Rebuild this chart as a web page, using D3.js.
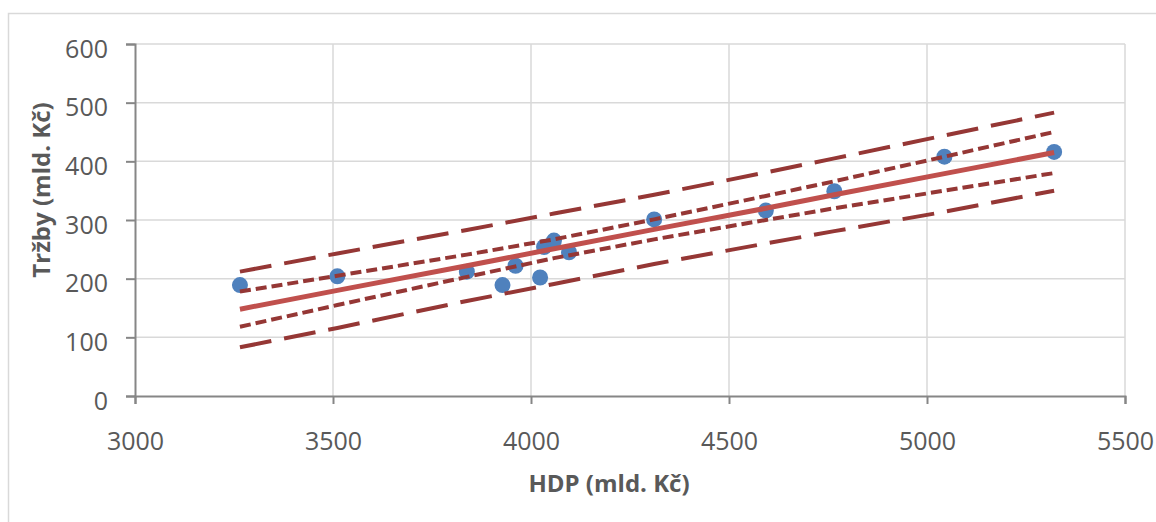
<!DOCTYPE html>
<html>
<head>
<meta charset="utf-8">
<script src="https://cdn.jsdelivr.net/npm/d3@7"></script>
<style>
body{margin:0;background:#fff;}
svg text{font-family:"Open Sans","Noto Sans",sans-serif;fill:#595959;}
</style>
</head>
<body>
<svg id="chart" width="1156" height="522"></svg>
<script>
// data
var hdp = [3265, 3511, 3838, 3928, 3961, 4023, 4033, 4058, 4096, 4311, 4593, 4766, 5044, 5321];
var trzby = [189, 204, 212, 189, 222, 202, 254, 265, 245, 301, 316, 349, 408, 416];

// regression line + bands
var bandX = [3265, 3511, 3838, 4058, 4311, 4593, 4766, 5044, 5321];
var fit = [148, 180, 222, 251, 284, 320, 343, 379, 415];
var confUp = [178, 205, 241, 267, 301, 341, 366, 408, 450];
var confLo = [118, 155, 203, 235, 267, 300, 320, 350, 380];
var predUp = [212, 243, 283, 311, 343, 381, 405, 444, 483];
var predLo = [83, 116, 162, 191, 225, 260, 281, 314, 350];

var xTicks = [3000, 3500, 4000, 4500, 5000, 5500];
var yTicks = [0, 100, 200, 300, 400, 500, 600];

var svg = d3.select('#chart');

// outer frame
svg.append('rect')
    .attr('x', 8.5).attr('y', 13.5)
    .attr('width', 1160).attr('height', 520)
    .attr('fill', 'none').attr('stroke', '#d9d9d9').attr('stroke-width', 1.5);

var x = d3.scaleLinear().domain([3000, 5500]).range([135, 1125]);
var y = d3.scaleLinear().domain([0, 600]).range([396, 44]);

// grid
svg.append('g').selectAll('line').data(yTicks.slice(1)).enter().append('line')
    .attr('x1', x(3000)).attr('x2', x(5500))
    .attr('y1', function(d){ return y(d); }).attr('y2', function(d){ return y(d); })
    .attr('stroke', '#d9d9d9').attr('stroke-width', 1.5);
svg.append('g').selectAll('line').data(xTicks.slice(1)).enter().append('line')
    .attr('y1', y(0)).attr('y2', y(600))
    .attr('x1', function(d){ return x(d); }).attr('x2', function(d){ return x(d); })
    .attr('stroke', '#d9d9d9').attr('stroke-width', 1.5);

// axes
var xAxis = d3.axisBottom(x).tickValues(xTicks).tickSize(8).tickPadding(28).tickFormat(d3.format('d'));
var yAxis = d3.axisLeft(y).tickValues(yTicks).tickSize(9).tickPadding(18).tickFormat(d3.format('d'));

var gx = svg.append('g').attr('transform', 'translate(0,' + y(0) + ')').call(xAxis);
var gy = svg.append('g').attr('transform', 'translate(' + x(3000) + ',0)').call(yAxis);

[gx, gy].forEach(function(g){
    g.select('.domain').attr('stroke', '#868686').attr('stroke-width', 2);
    g.selectAll('.tick line').attr('stroke', '#868686').attr('stroke-width', 2);
    g.selectAll('.tick text').attr('font-size', 25).attr('fill', '#595959');
});
gy.selectAll('.tick text').attr('dy', '0.52em');

// points
svg.append('g').selectAll('circle').data(hdp).enter().append('circle')
    .attr('cx', function(d){ return x(d); })
    .attr('cy', function(d, i){ return y(trzby[i]); })
    .attr('r', 8)
    .attr('fill', '#4f81bd');

// lines
function drawLine(vals, color, width, dash){
    var line = d3.line()
        .x(function(d, i){ return x(bandX[i]); })
        .y(function(d){ return y(d); });
    svg.append('path').datum(vals)
        .attr('d', line)
        .attr('fill', 'none')
        .attr('stroke', color)
        .attr('stroke-width', width)
        .attr('stroke-dasharray', dash);
}
drawLine(predUp, '#953735', 4, '32,13');
drawLine(predLo, '#953735', 4, '32,13');
drawLine(confUp, '#953735', 4, '11,5');
drawLine(confLo, '#953735', 4, '11,5');
drawLine(fit, '#c0504d', 5, null);

// titles
svg.append('text')
    .attr('x', 609).attr('y', 492)
    .attr('text-anchor', 'middle')
    .attr('font-size', 24).attr('font-weight', 'bold')
    .text('HDP (mld. Kč)');

svg.append('text')
    .attr('transform', 'translate(50,190) rotate(-90)')
    .attr('text-anchor', 'middle')
    .attr('font-size', 24).attr('font-weight', 'bold')
    .text('Tržby (mld. Kč)');
</script>
</body>
</html>
